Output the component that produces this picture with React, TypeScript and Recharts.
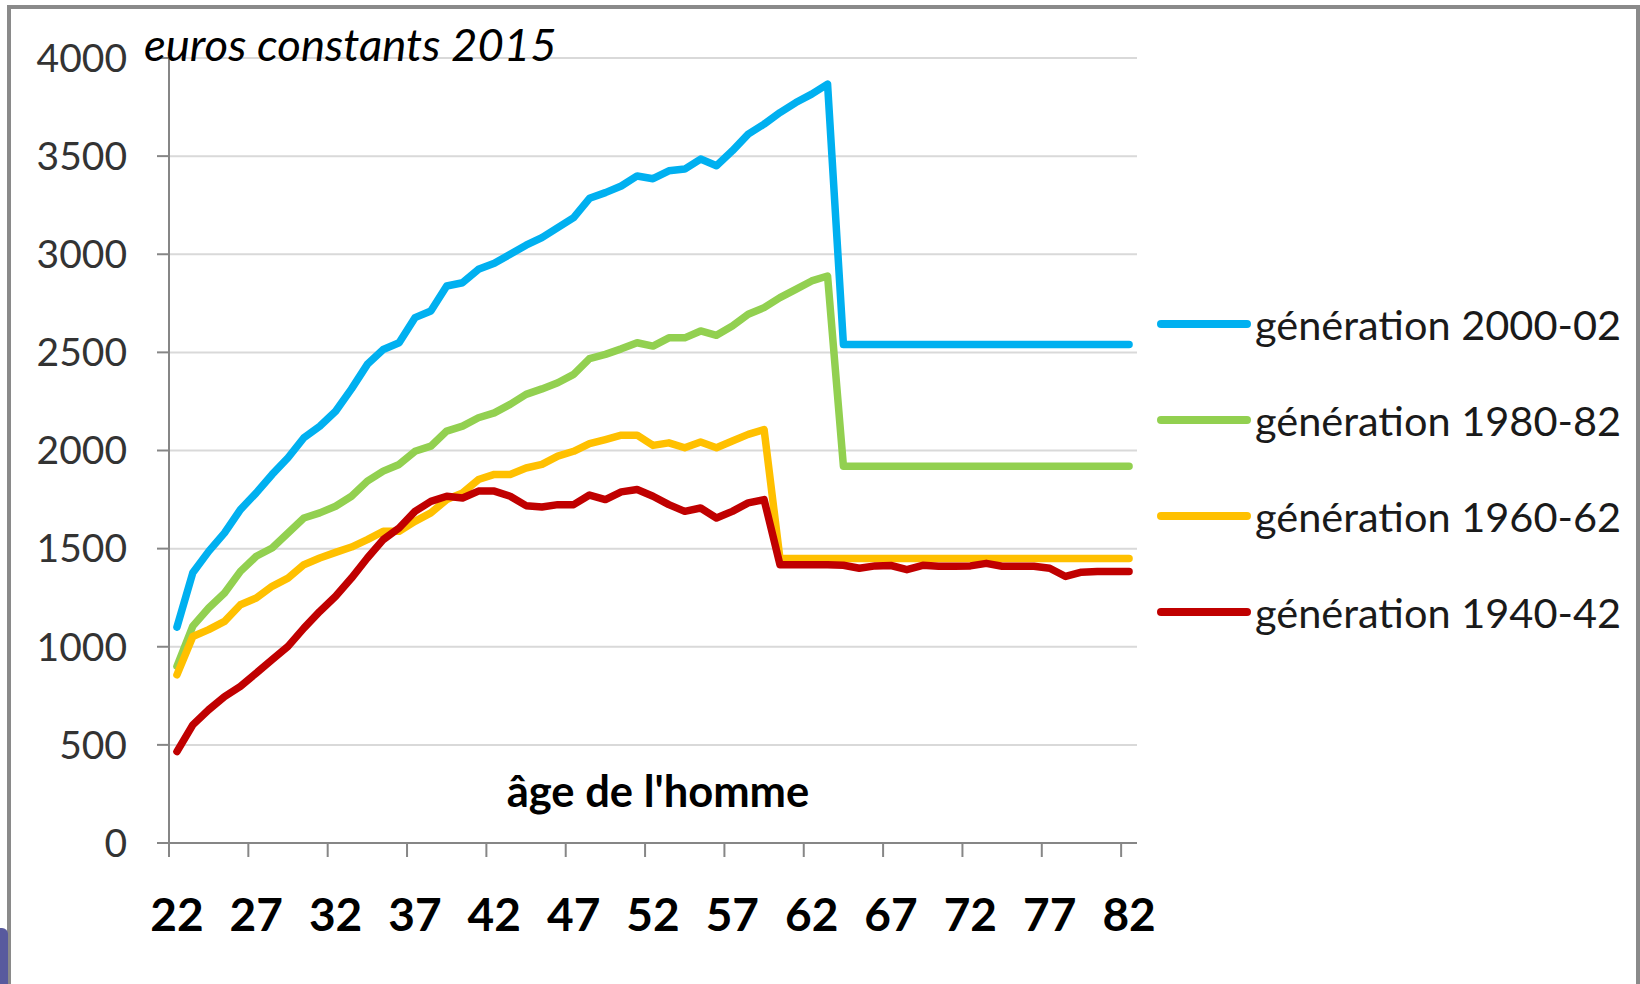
import { LineChart, Line, XAxis, YAxis, CartesianGrid, Legend } from 'recharts';

const AGES = [
  22, 23, 24, 25, 26, 27, 28, 29, 30, 31, 32, 33, 34, 35, 36, 37, 38, 39, 40, 41,
  42, 43, 44, 45, 46, 47, 48, 49, 50, 51, 52, 53, 54, 55, 56, 57, 58, 59, 60, 61,
  62, 63, 64, 65, 66, 67, 68, 69, 70, 71, 72, 73, 74, 75, 76, 77, 78, 79, 80, 81, 82,
];

const GEN_2000 = [
  1100, 1377, 1486, 1580, 1699, 1784, 1878, 1963, 2065, 2124, 2200, 2314, 2439, 2515,
  2549, 2677, 2711, 2838, 2855, 2923, 2954, 3000, 3046, 3085, 3136, 3187, 3285, 3314,
  3348, 3399, 3385, 3425, 3434, 3485, 3451, 3527, 3612, 3663, 3722, 3773, 3816, 3867,
  2540, 2540, 2540, 2540, 2540, 2540, 2540, 2540, 2540, 2540, 2540, 2540, 2540, 2540,
  2540, 2540, 2540, 2540, 2540,
];

const GEN_1980 = [
  900, 1105, 1197, 1274, 1384, 1461, 1503, 1580, 1656, 1682, 1716, 1767, 1844, 1895,
  1929, 1996, 2022, 2099, 2124, 2167, 2192, 2235, 2286, 2314, 2345, 2388, 2468, 2490,
  2518, 2549, 2532, 2574, 2574, 2609, 2587, 2634, 2694, 2728, 2779, 2821, 2864, 2889,
  1920, 1920, 1920, 1920, 1920, 1920, 1920, 1920, 1920, 1920, 1920, 1920, 1920, 1920,
  1920, 1920, 1920, 1920, 1920,
];

const GEN_1960 = [
  857, 1052, 1087, 1129, 1214, 1248, 1308, 1350, 1418, 1452, 1481, 1508, 1546, 1588,
  1588, 1639, 1682, 1750, 1784, 1852, 1878, 1878, 1911, 1929, 1971, 1996, 2035, 2056,
  2078, 2078, 2026, 2039, 2014, 2043, 2014, 2048, 2082, 2107,
  1450, 1450, 1450, 1450, 1450, 1450, 1450, 1450, 1450, 1450, 1450, 1450, 1450, 1450,
  1450, 1450, 1450, 1450, 1450, 1450, 1450, 1450, 1450,
];

const GEN_1940 = [
  466, 602, 679, 746, 798, 866, 934, 1002, 1095, 1180, 1257, 1350, 1452, 1546,
  1605, 1690, 1741, 1767, 1758, 1793, 1793, 1767, 1719, 1712, 1724, 1724, 1773, 1750,
  1789, 1801, 1767, 1724, 1690, 1707, 1656, 1690, 1733, 1750,
  1418, 1418, 1418, 1418, 1415, 1400, 1412, 1414, 1393, 1415, 1410, 1410, 1412, 1425,
  1410, 1410, 1410, 1400, 1358, 1380, 1384, 1384, 1384,
];

const X_TICKS = [22, 27, 32, 37, 42, 47, 52, 57, 62, 67, 72, 77, 82];
const Y_TICKS = [0, 500, 1000, 1500, 2000, 2500, 3000, 3500, 4000];

const SERIES = [
  { key: 'g2000', name: 'génération 2000-02', color: '#00B0F0' },
  { key: 'g1980', name: 'génération 1980-82', color: '#92D050' },
  { key: 'g1960', name: 'génération 1960-62', color: '#FFC000' },
  { key: 'g1940', name: 'génération 1940-42', color: '#C00000' },
];

const data = AGES.map((age, i) => ({
  age,
  g2000: GEN_2000[i],
  g1980: GEN_1980[i],
  g1960: GEN_1960[i],
  g1940: GEN_1940[i],
}));

const W = 1640;
const H = 984;
const Y_AXIS_W = 169;
const RIGHT = 503;
const PLOT_W = W - Y_AXIS_W - RIGHT;
const HALF_CAT = PLOT_W / AGES.length / 2;
const FONT = 'Lato, "Open Sans", sans-serif';
const AXIS_GRAY = '#868686';

function AgeTick(props: any) {
  const { x, y, payload } = props;
  return (
    <g>
      <line x1={x - HALF_CAT} x2={x - HALF_CAT} y1={y} y2={y + 14} stroke={AXIS_GRAY} strokeWidth={2} />
      <text x={x} y={y + 88} textAnchor="middle" fontFamily={FONT} fontWeight={700} fontSize={46} fill="#000">
        {payload.value}
      </text>
    </g>
  );
}

function LegendBox() {
  return (
    <div style={{ fontFamily: FONT }}>
      {SERIES.map((s) => (
        <div key={s.key} style={{ height: 96, display: 'flex', alignItems: 'center' }}>
          <svg width={96} height={14} style={{ display: 'block' }}>
            <line x1={5} x2={91} y1={7} y2={7} stroke={s.color} strokeWidth={8} strokeLinecap="round" />
          </svg>
          <span style={{ fontSize: 41.5, color: '#1a1a1a', marginLeft: 3, whiteSpace: 'nowrap' }}>{s.name}</span>
        </div>
      ))}
    </div>
  );
}

export default function App() {
  return (
    <div style={{ position: 'absolute', left: 0, top: 0, width: W, height: H, background: '#fff', overflow: 'hidden' }}>
      <LineChart width={W} height={H} data={data} margin={{ top: 58, right: RIGHT, bottom: 0, left: 0 }}>
        <CartesianGrid vertical={false} stroke="#d9d9d9" strokeWidth={2} />
        <XAxis
          dataKey="age"
          type="number"
          domain={[21.5, 82.5]}
          ticks={X_TICKS}
          interval={0}
          height={141}
          axisLine={{ stroke: AXIS_GRAY, strokeWidth: 2 }}
          tickLine={false}
          tickSize={0}
          tickMargin={0}
          tick={<AgeTick />}
        />
        <YAxis
          domain={[0, 4000]}
          ticks={Y_TICKS}
          interval={0}
          width={Y_AXIS_W}
          axisLine={{ stroke: AXIS_GRAY, strokeWidth: 2 }}
          tickLine={{ stroke: AXIS_GRAY, strokeWidth: 2 }}
          tickSize={12}
          tickMargin={30}
          tick={{ fontFamily: FONT, fontSize: 39, fill: '#333' }}
        />
        <Legend
          layout="vertical"
          align="center"
          verticalAlign="middle"
          wrapperStyle={{ left: 1156, top: 276, width: 480 }}
          content={() => <LegendBox />}
        />
        {SERIES.map((s) => (
          <Line
            key={s.key}
            dataKey={s.key}
            name={s.name}
            stroke={s.color}
            strokeWidth={7.5}
            strokeLinejoin="round"
            strokeLinecap="round"
            dot={false}
            activeDot={false}
            isAnimationActive={false}
          />
        ))}
      </LineChart>
      <svg width={W} height={H} style={{ position: 'absolute', left: 0, top: 0, pointerEvents: 'none' }}>
        <text x={144} y={61} fontFamily={FONT} fontStyle="italic" fontSize={45.5} fill="#000">
          euros constants 2015
        </text>
        <text x={658} y={807} textAnchor="middle" fontFamily={FONT} fontWeight={700} fontSize={43.5} fill="#000">
          âge de l'homme
        </text>
      </svg>
      <div style={{ position: 'absolute', left: 7, top: 5, width: 1633, height: 1000, border: '4px solid #8a8a8a', boxSizing: 'border-box' }} />
      <div style={{ position: 'absolute', left: 0, top: 928, width: 8, height: 56, background: '#585a9e', borderTopRightRadius: 6 }} />
    </div>
  );
}
